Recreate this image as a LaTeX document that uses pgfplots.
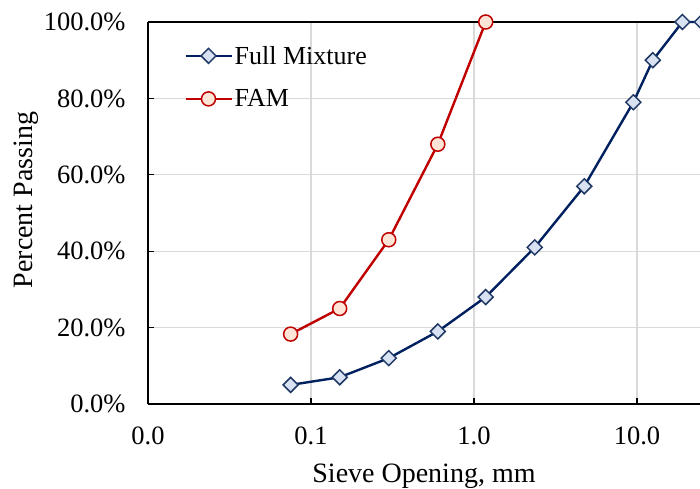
\documentclass[border=0pt]{standalone}
\usepackage{pgfplots}
\pgfplotsset{compat=1.18}
\usepackage{fontspec}
\setmainfont{Liberation Serif}
\usetikzlibrary{calc}

\definecolor{navy}{HTML}{002060}
\definecolor{navyedge}{HTML}{203864}
\definecolor{bluefill}{HTML}{D9E2F3}
\definecolor{darkred}{HTML}{C00000}
\definecolor{peach}{HTML}{FCE4D6}
\definecolor{gridgray}{HTML}{D9D9D9}

\begin{document}
\begin{tikzpicture}
\begin{axis}[
  scale only axis, width=552bp, height=382bp,
  xmode=log, xmin=0.01, xmax=24.35, ymin=0, ymax=100,
  clip=false,
  axis y line*=left,
  xtick pos=bottom, ytick pos=left,
  xtick={0.01,0.1,1,10}, xticklabels={0.0,0.1,1.0,10.0},
  xminorticks=false,
  ytick={0,20,40,60,80,100},
  yticklabels={0.0\%,20.0\%,40.0\%,60.0\%,80.0\%,100.0\%},
  grid=major, major grid style={gridgray, line width=1.2bp},
  axis line style={black, line width=1.6bp},
  tick style={black, line width=1.2bp}, major tick length=6bp,
  tick align=inside,
  /pgf/number format/assume math mode=true,
  tick label style={font=\fontsize{26.5bp}{30bp}\selectfont},
  yticklabel style={xshift=-19bp},
  xticklabel style={yshift=-19bp},
  xlabel={Sieve Opening, mm},
  ylabel={Percent Passing},
  label style={font=\fontsize{28bp}{32bp}\selectfont},
  xlabel style={at={(axis description cs:0.5,0)}, anchor=base, yshift=-78bp},
  ylabel style={at={(axis description cs:0,0.534)}, anchor=base, yshift=115bp},
  legend cell align=left,
  legend style={draw=none, fill=none, at={(axis description cs:0.06,0.948)},
    anchor=north west, row sep=20bp, font=\fontsize{26bp}{30bp}\selectfont},
  legend image code/.code={
    \draw[mark repeat=2, mark phase=2] plot coordinates {(0bp,0bp) (23bp,0bp) (46bp,0bp)};
  },
]
\addplot[navy, line width=2.4bp, mark=square*, mark size=5.3bp,
  mark options={rotate=45, fill=bluefill, draw=navyedge, line width=1.5bp}]
  coordinates {(0.075,5) (0.15,7) (0.3,12) (0.6,19) (1.18,28) (2.36,41)
               (4.75,57) (9.5,79) (12.5,90) (19,100) (25,100)};
\addlegendentry{Full Mixture}
\addplot[darkred, line width=2.4bp, mark=*, mark size=7bp,
  mark options={fill=peach, draw=darkred, line width=1.5bp}]
  coordinates {(0.075,18.3) (0.15,25) (0.3,43) (0.6,68) (1.18,100)};
\addlegendentry{FAM}
\coordinate (sw) at (rel axis cs:0,0);
\coordinate (ne) at (rel axis cs:1,1);
\end{axis}
\pgfresetboundingbox
\path[use as bounding box] ($(sw)+(-148bp,-85bp)$) rectangle ($(ne)+(0bp,22bp)$);
\end{tikzpicture}
\end{document}
